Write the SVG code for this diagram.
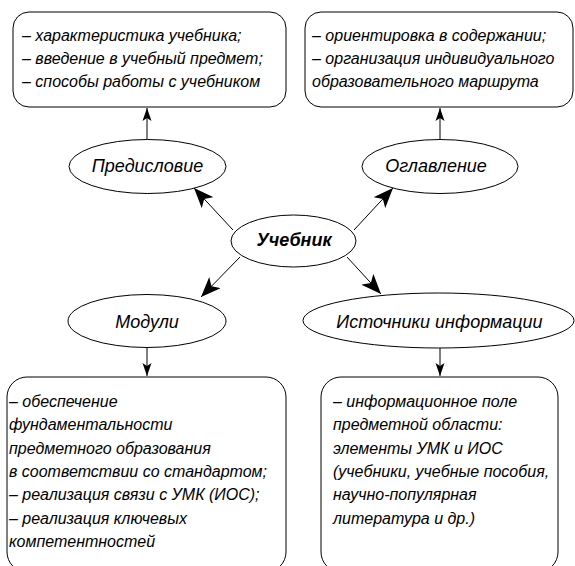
<svg xmlns="http://www.w3.org/2000/svg" width="575" height="566" viewBox="0 0 575 566">
<style>
.box{fill:#fff;stroke:#000;stroke-width:1}
.ell{fill:#fff;stroke:#000;stroke-width:1}
.t{font-family:"Liberation Sans",Arial,sans-serif;font-style:italic;font-size:16px;fill:#000}
.lbl{font-family:"Liberation Sans",Arial,sans-serif;font-style:italic;font-size:18px;fill:#000;text-anchor:middle}
.b{font-weight:bold}
.c{stroke:#000;stroke-width:1;fill:none}
.big{marker-end:url(#big)}
.small{marker-end:url(#small)}
</style>
<defs>
<marker id="big" viewBox="-20 -8 20 16" markerWidth="20" markerHeight="16" refX="0" refY="0" orient="auto" markerUnits="userSpaceOnUse">
<path d="M0,0 L-20,-8 L-15,0 L-20,8 Z" fill="#000"/>
</marker>
<marker id="small" viewBox="-13 -5 13 10" markerWidth="13" markerHeight="10" refX="0" refY="0" orient="auto" markerUnits="userSpaceOnUse">
<path d="M0,0 L-13,-4.5 L-10,0 L-13,4.5 Z" fill="#000"/>
</marker>
</defs>
<rect width="575" height="566" fill="#fff"/>
<g id="connectors">
<line class="c small" x1="147" y1="140" x2="147" y2="108"/>
<line class="c small" x1="440" y1="140" x2="440" y2="108"/>
<line class="c small" x1="147" y1="347" x2="147" y2="376"/>
<line class="c small" x1="440" y1="348" x2="440" y2="376"/>
<line class="c big" x1="233" y1="230" x2="194" y2="188"/>
<line class="c big" x1="354" y1="230" x2="393" y2="188"/>
<line class="c big" x1="240" y1="257" x2="201" y2="297"/>
<line class="c big" x1="347" y1="257" x2="381" y2="294"/>
</g>
<g id="box-predislovie">
<rect class="box" x="13" y="12" width="273" height="95" rx="16"/>
<text class="t" x="22" y="40.5">– характеристика учебника;</text>
<text class="t" x="22" y="63.5">– введение в учебный предмет;</text>
<text class="t" x="22" y="86.5">– способы работы с учебником</text>
</g>
<g id="box-oglavlenie">
<rect class="box" x="305" y="12" width="268" height="95" rx="16"/>
<text class="t" x="312" y="40.5">– ориентировка в содержании;</text>
<text class="t" x="312" y="63.5">– организация индивидуального</text>
<text class="t" x="312" y="86.5">образовательного маршрута</text>
</g>
<g id="predislovie">
<ellipse class="ell" cx="147.5" cy="166.5" rx="78.5" ry="27"/>
<text class="lbl" x="147.5" y="172">Предисловие</text>
</g>
<g id="oglavlenie">
<ellipse class="ell" cx="440" cy="166.5" rx="78" ry="27"/>
<text class="lbl" x="436" y="172">Оглавление</text>
</g>
<g id="uchebnik">
<ellipse class="ell" cx="293.5" cy="241" rx="62.5" ry="26"/>
<text class="lbl b" x="294" y="246">Учебник</text>
</g>
<g id="moduli">
<ellipse class="ell" cx="147" cy="321" rx="79" ry="26.5"/>
<text class="lbl" x="147" y="327.5">Модули</text>
</g>
<g id="istochniki">
<ellipse class="ell" cx="438.5" cy="320.5" rx="135.5" ry="27.5"/>
<text class="lbl" x="439.5" y="328">Источники информации</text>
</g>
<g id="box-moduli">
<rect class="box" x="7" y="377" width="279" height="195" rx="20"/>
<text class="t" x="9" y="407">– обеспечение</text>
<text class="t" x="9" y="430.3">фундаментальности</text>
<text class="t" x="9" y="453.6">предметного образования</text>
<text class="t" x="9" y="476.9">в соответствии со стандартом;</text>
<text class="t" x="9" y="500.2">– реализация связи с УМК (ИОС);</text>
<text class="t" x="9" y="523.5">– реализация ключевых</text>
<text class="t" x="9" y="546.8">компетентностей</text>
</g>
<g id="box-istochniki">
<rect class="box" x="321" y="377" width="237" height="195" rx="20"/>
<text class="t" x="333" y="407">– информационное поле</text>
<text class="t" x="333" y="430.3">предметной области:</text>
<text class="t" x="333" y="453.6">элементы УМК и ИОС</text>
<text class="t" x="333" y="476.9">(учебники, учебные пособия,</text>
<text class="t" x="333" y="500.2">научно-популярная</text>
<text class="t" x="333" y="523.5">литература и др.)</text>
</g>
</svg>
